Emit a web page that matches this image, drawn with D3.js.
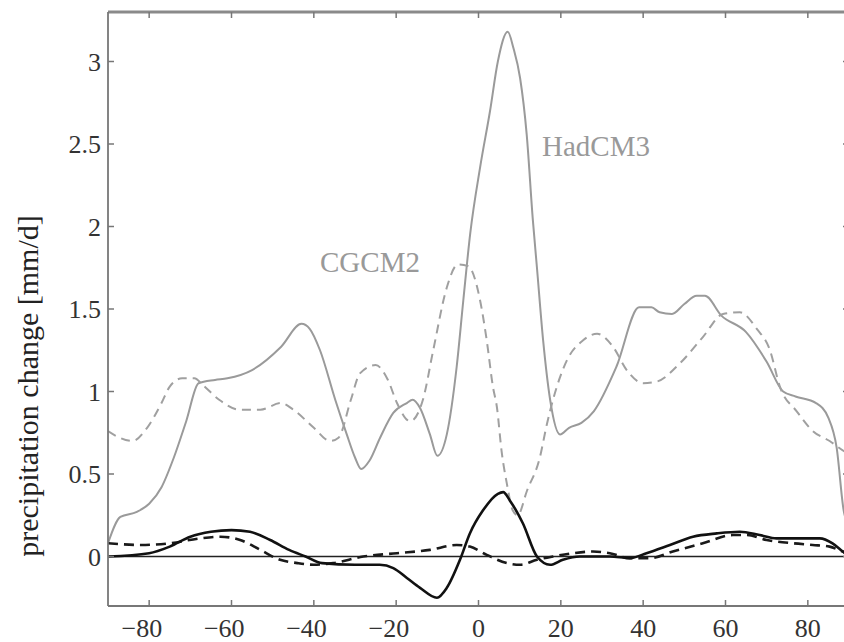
<!DOCTYPE html>
<html>
<head>
<meta charset="utf-8">
<script src="https://cdn.jsdelivr.net/npm/d3@7"></script>
<style>
  body { margin: 0; background: #fff; }
  svg { display: block; }
  text { font-family: "Liberation Serif", "DejaVu Serif", serif; }
</style>
</head>
<body>
<svg id="chart" width="844" height="642"></svg>
<script>
// latitude / precipitation change values
var had_lat = [-90, -87, -83, -80, -77, -74, -71, -68, -64, -61, -55, -48, -43, -41, -38.5, -34.8, -32, -30, -28.5, -26.5, -23.9, -20.7, -17.4, -16, -14.2, -11.8, -10, -7.7, -5.3, -3.7, -2, 0.4, 2.8, 4.7, 7.1, 8.5, 10.1, 11.7, 13.2, 14.2, 15.7, 17.4, 19.8, 22, 25, 28, 33.5, 39, 42, 44, 47, 50, 53, 55, 59, 65, 70, 74, 77, 82, 85, 87, 88.7, 90];
var had_val = [0.08, 0.24, 0.27, 0.32, 0.42, 0.6, 0.82, 1.05, 1.07, 1.08, 1.13, 1.27, 1.41, 1.38, 1.25, 0.95, 0.74, 0.6, 0.53, 0.58, 0.72, 0.87, 0.93, 0.95, 0.9, 0.74, 0.61, 0.74, 1.15, 1.55, 1.96, 2.36, 2.7, 3.0, 3.18, 3.08, 2.9, 2.56, 2.04, 1.75, 1.31, 0.95, 0.74, 0.78, 0.81, 0.88, 1.15, 1.51, 1.51, 1.48, 1.47, 1.53, 1.58, 1.58, 1.46, 1.36, 1.18, 1.0, 0.97, 0.93, 0.84, 0.66, 0.28, 0.18];

var cgc_lat = [-90, -88, -84, -80.5, -77, -75, -72, -69, -67, -63, -58, -53, -48, -45, -40, -36, -34, -31, -28.8, -25, -22, -19.8, -16.6, -13.5, -11, -7.7, -5, -2.5, 0.4, 2, 3.5, 4.5, 5.6, 6.9, 8.3, 9.5, 11.8, 14.9, 16.6, 18.1, 21.5, 25.4, 28.8, 32.7, 36, 40, 43.3, 48.9, 54.5, 59.4, 63.5, 67.6, 70.8, 73.2, 77.3, 81.2, 85.3, 88.7, 90];
var cgc_val = [0.76, 0.73, 0.7, 0.78, 0.93, 1.03, 1.08, 1.08, 1.04, 0.95, 0.89, 0.89, 0.93, 0.89, 0.78, 0.7, 0.72, 0.95, 1.11, 1.16, 1.07, 0.93, 0.82, 0.95, 1.25, 1.63, 1.77, 1.76, 1.55, 1.31, 1.03, 0.9, 0.64, 0.44, 0.28, 0.25, 0.4, 0.6, 0.8, 0.95, 1.19, 1.31, 1.35, 1.27, 1.13, 1.05, 1.06, 1.17, 1.33, 1.47, 1.48, 1.38, 1.25, 1.03, 0.88, 0.76, 0.7, 0.64, 0.62];

var dsol_lat = [-90, -80, -75, -70, -65, -60, -55.5, -50.6, -46, -42, -38, -30, -24, -20.7, -17.4, -14.2, -10.1, -7.7, -4.5, -2.1, 1.1, 4.7, 6, 7.6, 10.8, 14.2, 17.4, 20.5, 24.6, 31.9, 36.8, 40.8, 46.5, 52.1, 57.9, 63.5, 68.3, 72.4, 82.9, 86, 88.5, 90];
var dsol_val = [0.0, 0.02, 0.06, 0.12, 0.15, 0.16, 0.15, 0.1, 0.04, 0.0, -0.04, -0.05, -0.05, -0.07, -0.13, -0.19, -0.25, -0.19, -0.02, 0.14, 0.28, 0.38, 0.39, 0.34, 0.2, 0.0, -0.05, -0.02, 0.0, 0.0, -0.01, 0.02, 0.07, 0.12, 0.14, 0.15, 0.13, 0.11, 0.11, 0.08, 0.03, 0.0];

var ddash_lat = [-90, -82, -75, -67.6, -62.7, -57.9, -53, -48.2, -44, -40, -35.3, -28, -19.8, -11.8, -5.3, -2.1, 2, 6.9, 10.1, 14.2, 18.1, 23, 27.8, 31.9, 36.8, 41.6, 47.2, 54.5, 61.8, 65.2, 70, 76.4, 81.2, 85.3, 88.5, 90];
var ddash_val = [0.08, 0.07, 0.08, 0.11, 0.12, 0.1, 0.04, -0.02, -0.04, -0.05, -0.04, 0.0, 0.02, 0.04, 0.07, 0.06, 0.01, -0.04, -0.05, -0.02, 0.0, 0.02, 0.03, 0.02, -0.01, -0.01, 0.03, 0.08, 0.13, 0.13, 0.1, 0.08, 0.07, 0.06, 0.03, 0.02];

var x_ticks = [-80, -60, -40, -20, 0, 20, 40, 60, 80];
var y_ticks = [0, 0.5, 1, 1.5, 2, 2.5, 3];

var svg = d3.select("#chart");

var x = d3.scaleLinear().domain([-90, 90]).range([108, 849]);
var y = d3.scaleLinear().domain([-0.3, 3.3]).range([606, 12]);

function pairs(a, b) {
  return a.map(function(d, i) { return [d, b[i]]; });
}

svg.append("clipPath").attr("id", "plotclip")
  .append("rect")
  .attr("x", x(-90)).attr("y", y(3.3))
  .attr("width", x(90) - x(-90)).attr("height", y(-0.3) - y(3.3));

var line = d3.line()
  .x(function(d) { return x(d[0]); })
  .y(function(d) { return y(d[1]); })
  .curve(d3.curveMonotoneX);

var plot = svg.append("g").attr("clip-path", "url(#plotclip)");

// zero line
plot.append("line")
  .attr("x1", x(-90)).attr("x2", x(90))
  .attr("y1", y(0)).attr("y2", y(0))
  .style("stroke", "#222").style("stroke-width", 1.3);

var series = [
  { data: pairs(had_lat, had_val), color: "#9a9a9a", width: 2, dash: null },
  { data: pairs(cgc_lat, cgc_val), color: "#a0a0a0", width: 2, dash: "9,6" },
  { data: pairs(ddash_lat, ddash_val), color: "#1a1a1a", width: 2.6, dash: "10,6" },
  { data: pairs(dsol_lat, dsol_val), color: "#111", width: 2.6, dash: null }
];

series.forEach(function(s) {
  plot.append("path")
    .datum(s.data)
    .attr("d", line)
    .style("fill", "none")
    .style("stroke", s.color)
    .style("stroke-width", s.width)
    .style("stroke-dasharray", s.dash);
});

// axes: box with inward ticks
var axisColor = "#777";
var axes = svg.append("g");

axes.append("line")
  .attr("x1", x(-90)).attr("x2", x(90)).attr("y1", y(3.3)).attr("y2", y(3.3))
  .style("stroke", "#8a8a8a").style("stroke-width", 3);
axes.append("line")
  .attr("x1", x(-90)).attr("x2", x(90)).attr("y1", y(-0.3)).attr("y2", y(-0.3))
  .style("stroke", axisColor).style("stroke-width", 1.8);
axes.append("line")
  .attr("x1", x(-90)).attr("x2", x(-90)).attr("y1", y(3.3)).attr("y2", y(-0.3))
  .style("stroke", axisColor).style("stroke-width", 1.8);
axes.append("line")
  .attr("x1", x(90)).attr("x2", x(90)).attr("y1", y(3.3)).attr("y2", y(-0.3))
  .style("stroke", axisColor).style("stroke-width", 1.8);

var tickLen = 6;

axes.selectAll("line.xtb").data(x_ticks).enter().append("line")
  .attr("class", "xtb")
  .attr("x1", function(d) { return x(d); }).attr("x2", function(d) { return x(d); })
  .attr("y1", y(-0.3)).attr("y2", y(-0.3) - tickLen)
  .style("stroke", axisColor).style("stroke-width", 1.5);

axes.selectAll("line.xtt").data(x_ticks).enter().append("line")
  .attr("class", "xtt")
  .attr("x1", function(d) { return x(d); }).attr("x2", function(d) { return x(d); })
  .attr("y1", y(3.3)).attr("y2", y(3.3) + tickLen)
  .style("stroke", axisColor).style("stroke-width", 1.5);

axes.selectAll("line.ytl").data(y_ticks).enter().append("line")
  .attr("class", "ytl")
  .attr("x1", x(-90)).attr("x2", x(-90) + tickLen)
  .attr("y1", function(d) { return y(d); }).attr("y2", function(d) { return y(d); })
  .style("stroke", axisColor).style("stroke-width", 1.5);

axes.selectAll("line.ytr").data(y_ticks).enter().append("line")
  .attr("class", "ytr")
  .attr("x1", x(90)).attr("x2", x(90) - tickLen)
  .attr("y1", function(d) { return y(d); }).attr("y2", function(d) { return y(d); })
  .style("stroke", axisColor).style("stroke-width", 1.5);

// tick labels
axes.selectAll("text.xlab").data(x_ticks).enter().append("text")
  .attr("class", "xlab")
  .attr("x", function(d) { return x(d); })
  .attr("y", 637)
  .attr("dx", function(d) { return d < 0 ? "-0.28em" : 0; })
  .attr("text-anchor", "middle")
  .style("font-size", "26px")
  .style("fill", "#333")
  .text(function(d) { return d < 0 ? "\u2212" + Math.abs(d) : d; });

axes.selectAll("text.ylab").data(y_ticks).enter().append("text")
  .attr("class", "ylab")
  .attr("x", 101)
  .attr("y", function(d) { return y(d) + 9; })
  .attr("text-anchor", "end")
  .style("font-size", "26px")
  .style("fill", "#333")
  .text(function(d) { return d; });

// axis title
svg.append("text")
  .attr("transform", "translate(38,386) rotate(-90)")
  .attr("text-anchor", "middle")
  .style("font-size", "30px")
  .style("fill", "#222")
  .text("precipitation change [mm/d]");

// series labels
svg.append("text")
  .attr("x", 542).attr("y", 156)
  .style("font-size", "29px")
  .style("fill", "#999")
  .text("HadCM3");

svg.append("text")
  .attr("x", 320).attr("y", 272)
  .style("font-size", "29px")
  .style("fill", "#999")
  .text("CGCM2");
</script>
</body>
</html>
